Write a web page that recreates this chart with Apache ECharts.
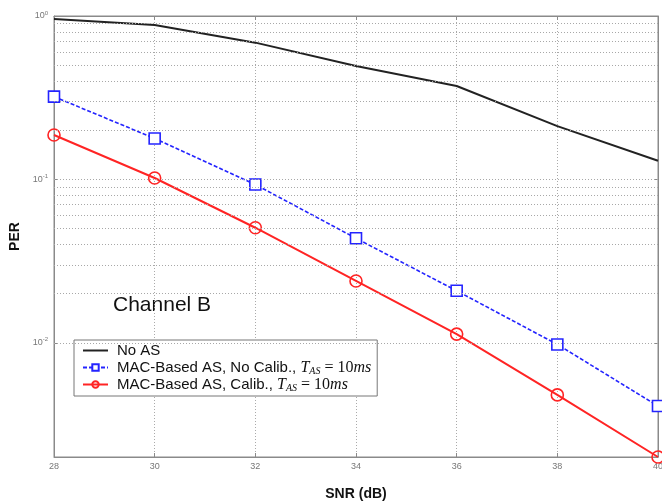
<!DOCTYPE html>
<html>
<head>
<meta charset="utf-8">
<script src="https://cdn.jsdelivr.net/npm/echarts@6/dist/echarts.min.js"></script>
<style>html,body{margin:0;padding:0;background:#fff}#c{width:662px;height:503px}</style>
</head>
<body>
<div id="c"></div>
<script>
var snr = [28, 30, 32, 34, 36, 38, 40];
var noAS = [0.96, 0.88, 0.687, 0.494, 0.373, 0.212, 0.130];
var macNoCalib = [0.321, 0.178, 0.093, 0.0436, 0.0208, 0.00977, 0.0041];
var macCalib = [0.187, 0.102, 0.0506, 0.0239, 0.0113, 0.0048, 0.0020];
var gridValues = [0.003, 0.004, 0.005, 0.006, 0.007, 0.008, 0.009, 0.01,
  0.02, 0.03, 0.04, 0.05, 0.06, 0.07, 0.08, 0.09, 0.1,
  0.2, 0.3, 0.4, 0.5, 0.6, 0.7, 0.8, 0.9];
var seriesNames = ['No AS', 'MAC-Based AS, No Calib., T_AS = 10ms', 'MAC-Based AS, Calib., T_AS = 10ms'];

function pairs(vals) { return snr.map(function (x, i) { return [x, vals[i]]; }); }

var chart = echarts.init(document.getElementById('c'));
var axisGray = '#8a8a8a';
var tickFont = { fontFamily: 'Liberation Sans, Arial', fontSize: 9, color: '#777' };

chart.setOption({
  animation: false,
  backgroundColor: '#fff',
  grid: { left: 54, right: 4, top: 16, bottom: 46, containLabel: false, outerBoundsMode: 'none',
    show: true, borderColor: axisGray, borderWidth: 1 },
  xAxis: [{
    type: 'value', min: 28, max: 40, interval: 2,
    name: 'SNR (dB)', nameLocation: 'middle', nameGap: 30,
    nameTextStyle: { fontFamily: 'Liberation Sans, Arial', fontSize: 14, fontWeight: 'bold', color: '#111' },
    axisLine: { lineStyle: { color: axisGray } },
    axisTick: { inside: true, length: 4, lineStyle: { color: axisGray } },
    axisLabel: Object.assign({ margin: 5 }, tickFont),
    splitLine: { show: true, lineStyle: { color: '#aaa', type: [1, 2], width: 1 } }
  }, {
    type: 'value', min: 28, max: 40, interval: 2, position: 'top',
    axisLine: { lineStyle: { color: axisGray } },
    axisTick: { inside: true, length: 4, lineStyle: { color: axisGray } },
    axisLabel: { show: false }, splitLine: { show: false }
  }],
  yAxis: [{
    type: 'log', min: 0.002, max: 1, logBase: 10,
    name: 'PER', nameLocation: 'middle', nameGap: 31, nameRotate: 90,
    nameTextStyle: { fontFamily: 'Liberation Sans, Arial', fontSize: 14, fontWeight: 'bold', color: '#111' },
    axisLine: { show: true, lineStyle: { color: axisGray } },
    axisTick: { inside: true, length: 4, lineStyle: { color: axisGray } },
    axisLabel: {
      margin: 6, color: '#777', fontFamily: 'Liberation Sans, Arial', fontSize: 9,
      formatter: function (v) {
        var e = Math.log(v) / Math.LN10;
        var r = Math.round(e);
        if (Math.abs(e - r) > 1e-6) return '';
        return '10{s|' + r + '}';
      },
      rich: { s: { fontSize: 6, verticalAlign: 'top', padding: [0, 0, 6, 0], color: '#777' } }
    },
    splitLine: { show: false }
  }, {
    type: 'log', min: 0.002, max: 1, logBase: 10, position: 'right',
    axisLine: { show: true, lineStyle: { color: axisGray } },
    axisTick: { inside: true, length: 4, lineStyle: { color: axisGray } },
    axisLabel: { show: false }, splitLine: { show: false }
  }],
  legend: {
    orient: 'vertical', left: 74, top: 340,
    backgroundColor: '#fff', borderColor: '#777', borderWidth: 1, borderRadius: 0,
    padding: [2, 6, 3, 8], itemGap: 0, itemWidth: 25, itemHeight: 8,
    data: [
      { name: seriesNames[0], itemStyle: { opacity: 0 } },
      { name: seriesNames[1] },
      { name: seriesNames[2] }
    ],
    textStyle: {
      fontFamily: 'Liberation Sans, Arial', fontSize: 15, color: '#111', lineHeight: 17,
      rich: {
        n: { fontFamily: 'Liberation Sans, Arial', fontSize: 15, color: '#111', lineHeight: 17, padding: [0, 0, 0, 4] },
        t: { fontFamily: 'Liberation Serif, Times New Roman', fontStyle: 'italic', fontSize: 16, color: '#111', lineHeight: 17 },
        sub: { fontFamily: 'Liberation Serif, Times New Roman', fontStyle: 'italic', fontSize: 10, color: '#111', verticalAlign: 'bottom', lineHeight: 12, padding: [5, 0, 0, 0] },
        m: { fontFamily: 'Liberation Serif, Times New Roman', fontSize: 16, color: '#111', lineHeight: 17 }
      }
    },
    formatter: function (name) {
      var k = name.indexOf('T_AS');
      if (k < 0) return '{n|' + name + '}';
      return '{n|' + name.slice(0, k) + '}{t|T}{sub|AS}{m| = 10}{t|ms}';
    }
  },
  graphic: [{
    type: 'text', left: 113, top: 295,
    style: { text: 'Channel B', fontFamily: 'Liberation Sans, Arial', fontSize: 21, fill: '#111' }
  }],
  series: [{
    name: seriesNames[0], type: 'line', data: pairs(noAS),
    symbol: 'none', lineStyle: { color: '#222', width: 2 }, itemStyle: { color: '#222' },
    markLine: {
      silent: true, symbol: 'none', animation: false,
      label: { show: false },
      lineStyle: { color: '#a8a8a8', type: [1, 2], width: 1 },
      data: gridValues.map(function (v) { return { yAxis: v }; })
    },
    z: 3
  }, {
    name: seriesNames[1], type: 'line', data: pairs(macNoCalib),
    symbol: 'rect', symbolSize: 11, showSymbol: true,
    lineStyle: { color: '#2424ff', width: 1.6, type: [4, 2] },
    itemStyle: { color: '#fff', borderColor: '#2424ff', borderWidth: 1.6 },
    z: 4
  }, {
    name: seriesNames[2], type: 'line', data: pairs(macCalib),
    symbol: 'circle', symbolSize: 12, showSymbol: true,
    lineStyle: { color: '#ff2424', width: 2 },
    itemStyle: { color: 'rgba(255,255,255,0)', borderColor: '#ff2424', borderWidth: 1.6 },
    z: 4
  }]
});
</script>
</body>
</html>
